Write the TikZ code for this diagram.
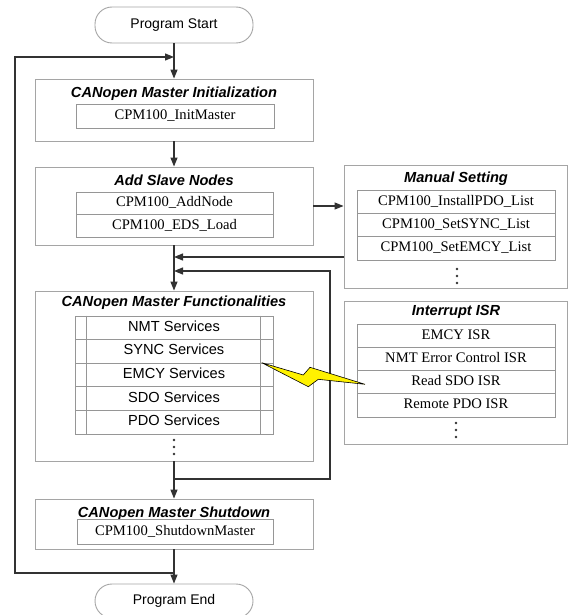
\documentclass[tikz,border=0pt]{standalone}
\usepackage{fontspec}
\setmainfont{Liberation Serif}
\setsansfont{Liberation Sans}
\usetikzlibrary{arrows.meta,calc}
\definecolor{boxgray}{RGB}{165,165,165}
\definecolor{rowgray}{RGB}{150,150,150}
\definecolor{conncol}{RGB}{50,50,50}
\definecolor{boltyellow}{RGB}{255,242,0}
\tikzset{
  outerbox/.style={draw=boxgray, line width=0.9pt, inner sep=0pt, fill=white},
  terminal/.style={draw=boxgray, line width=0.9pt, rounded corners=17pt, inner sep=0pt,
    minimum width=158pt, font=\sffamily\fontsize{14}{16}\selectfont},
  titletext/.style={inner sep=0pt, font=\sffamily\bfseries\itshape\fontsize{14.6}{17}\selectfont},
  rowbox/.style={draw=rowgray, line width=0.8pt, inner sep=0pt, text height=10pt, text depth=3pt,
    font=\fontsize{14.6}{17}\selectfont},
  srvbox/.style={draw=rowgray, line width=0.8pt, inner sep=0pt, text height=10pt, text depth=3pt,
    font=\sffamily\fontsize{14.6}{17}\selectfont, minimum width=198pt, minimum height=23.6pt},
  mrow/.style={rowbox, minimum width=198pt, minimum height=23.3pt},
  dotmark/.style={circle, fill=conncol, inner sep=0pt, minimum size=2.6pt},
  conn/.style={draw=conncol, line width=1.2pt},
  arr/.style={conn, -{Triangle[length=9pt,width=7pt]}},
}
\begin{document}
\begin{tikzpicture}[x=1pt,y=-1pt]
\useasboundingbox[fill=white] (0,0) rectangle (571,615);

% terminals
\node[terminal, minimum height=36pt] (start) at (174,25) {Program Start};
\node[terminal, minimum height=34pt] (end) at (174,601) {Program End};

% initialization
\node[outerbox, minimum width=278pt, minimum height=62pt] (init) at (174,110) {};
\node[titletext] (initT) at (174,94) {CANopen Master Initialization};
\node[rowbox, minimum width=198pt, minimum height=24pt] (initM) at (175,116) {CPM100\_InitMaster};

% add slave nodes
\node[outerbox, minimum width=278pt, minimum height=78pt] (add) at (174,206) {};
\node[titletext] (addT) at (174,180) {Add Slave Nodes};
\node[rowbox, minimum width=197pt, minimum height=22.5pt] (addA) at (174.5,203.25) {CPM100\_AddNode};
\node[rowbox, minimum width=197pt, minimum height=22.5pt] (addE) at (174.5,225.75) {CPM100\_EDS\_Load};

% manual setting
\node[outerbox, minimum width=223pt, minimum height=123pt] (man) at (455.5,226.5) {};
\node[titletext] (manT) at (456,179) {Manual Setting};
\node[mrow] (manP) at (456,201.65) {CPM100\_InstallPDO\_List};
\node[mrow] (manS) at (456,224.95) {CPM100\_SetSYNC\_List};
\node[mrow] (manE) at (456,248.25) {CPM100\_SetEMCY\_List};
\node[dotmark] (manD1) at (457,269) {};
\node[dotmark] (manD2) at (457,276) {};
\node[dotmark] (manD3) at (457,283) {};

% functionalities
\node[outerbox, minimum width=278pt, minimum height=170pt] (func) at (174,376) {};
\node[titletext] (funcT) at (174,303) {CANopen Master Functionalities};
\node[srvbox] (nmt) at (174,327.8) {NMT Services};
\node[srvbox] (sync) at (174,351.4) {SYNC Services};
\node[srvbox] (emcy) at (174,375.0) {EMCY Services};
\node[srvbox] (sdo) at (174,398.6) {SDO Services};
\node[srvbox] (pdo) at (174,422.2) {PDO Services};
\draw[draw=rowgray, line width=0.8pt] ([xshift=12pt]nmt.north west) -- ([xshift=12pt]pdo.south west);
\draw[draw=rowgray, line width=0.8pt] ([xshift=-13pt]nmt.north east) -- ([xshift=-13pt]pdo.south east);
\node[dotmark] (funcD1) at (174,440) {};
\node[dotmark] (funcD2) at (174,447) {};
\node[dotmark] (funcD3) at (174,454) {};

% interrupt ISR
\node[outerbox, minimum width=223pt, minimum height=143pt] (isr) at (455.5,372.5) {};
\node[titletext] (isrT) at (456,312) {Interrupt ISR};
\node[mrow, minimum height=23.25pt] (isrE) at (456,335.6) {EMCY ISR};
\node[mrow, minimum height=23.25pt] (isrN) at (456,358.9) {NMT Error Control ISR};
\node[mrow, minimum height=23.25pt] (isrR) at (456,382.1) {Read SDO ISR};
\node[mrow, minimum height=23.25pt] (isrP) at (456,405.4) {Remote PDO ISR};
\node[dotmark] (isrD1) at (456,423) {};
\node[dotmark] (isrD2) at (456,430) {};
\node[dotmark] (isrD3) at (456,437) {};

% shutdown
\node[outerbox, minimum width=278pt, minimum height=50pt] (shut) at (174,524) {};
\node[titletext] (shutT) at (174,514) {CANopen Master Shutdown};
\node[rowbox, minimum width=196pt, minimum height=25pt] (shutM) at (175,531.5) {CPM100\_ShutdownMaster};

% coordinates for loops
\coordinate (axTop) at (174,57);
\coordinate (lpTop) at (15,57);
\coordinate (lpBot) at (15,573);
\coordinate (axBot) at (174,573);
\coordinate (axMan) at (174,257);
\coordinate (axLoop) at (174,271);
\coordinate (rLoopTop) at (330,271);
\coordinate (rLoopBot) at (330,479);
\coordinate (axFunc) at (174,479);

% connectors
\draw[arr] (start.south) -- (init.north);
\draw[arr] (init.south) -- (add.north);
\draw[arr] (add.east) -- (man.west |- add.east);
\draw[arr] (add.south) -- (func.north);
\draw[arr] (man.west |- axMan) -- (axMan);
\draw[arr] (axFunc) -- (rLoopBot) -- (rLoopTop) -- (axLoop);
\draw[arr] (func.south) -- (shut.north);
\draw[arr] (shut.south) -- (end.north);
\draw[arr] (axBot) -- (lpBot) -- (lpTop) -- (axTop);

% lightning bolt
\draw[fill=boltyellow, draw=black, line width=0.6pt, line join=miter]
  (261.7,362.7) -- (303.3,375) -- (310,367.3) -- (365,384.3) -- (318.3,379.3) -- (308.3,386.7) -- cycle;
\end{tikzpicture}
\end{document}
